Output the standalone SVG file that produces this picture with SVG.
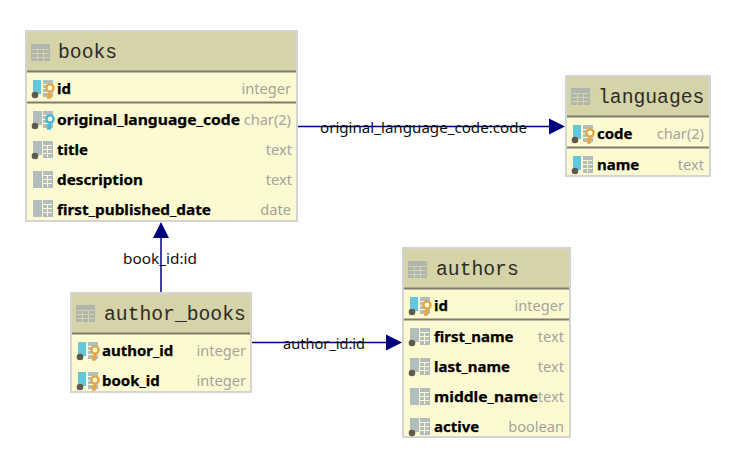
<svg xmlns="http://www.w3.org/2000/svg" width="741" height="475" viewBox="0 0 741 475">
<style>
.box{fill:#fdfad2;stroke:#d4d4d4;stroke-width:2}
.head{fill:#d6d3a8}
.sep{stroke:#7d7b6d;stroke-width:2}
.title{font-family:"Liberation Mono",monospace;font-size:19.7px;fill:#2c2c26}
.col{font-family:"Noto Sans",sans-serif;font-weight:700;font-size:15px;fill:#000;stroke:#000;stroke-width:.25}
.typ{font-family:"Noto Sans",sans-serif;font-size:14.6px;fill:#a4a49c;text-anchor:end}
.lab{font-family:"Noto Sans",sans-serif;font-size:15px;fill:#111}
.edge{stroke:#00007f;stroke-width:1.5;fill:none}
.arrow{fill:#00007f}
</style>
<defs>
<g id="tbl"><rect x="0" y="0" width="19" height="17" fill="#aeb6ae"/><path d="M1 5.500H18M1 9.500H18M1 13.500H18M6.500 5V17M12.500 5V17" stroke="#d6d3a8" stroke-width="1" fill="none"/></g>
<g id="gridbar"><path d="M10 0H20V17H10z" fill="#b2bdbe"/><path d="M10 4.500H19M10 8.500H19M10 12.500H19M14.500 4V16" stroke="#fdfad2" stroke-width="1" fill="none"/></g>
<g id="c"><rect x="0" y="0" width="9" height="17" fill="#b2bdbe"/><use href="#gridbar"/></g>
<g id="cn"><rect x="0" y="0" width="9" height="14" fill="#b2bdbe"/><use href="#gridbar"/><circle cx="2" cy="15" r="3.300" fill="#5e5a4e"/></g>
<g id="cb"><rect x="0" y="0" width="8" height="14" fill="#62c6dd"/><use href="#gridbar"/><circle cx="2" cy="15" r="3.300" fill="#5e5a4e"/></g>
<g id="key"><circle cx="17" cy="8" r="3.600" fill="#fdfad2" stroke-width="2.400"/><path d="M17 11V18.500M17 14.500H13.500M17 17.500H14" stroke-width="2.400" fill="none"/></g>
<use id="gk" href="#key" stroke="#e0a848"/>
<use id="bk" href="#key" stroke="#45b6dc"/>
<use id="table" href="#tbl"/>
</defs>

<g id="connectors">
<path class="edge" d="M297 126.500H552"/><path class="arrow" d="M565 126.500L549 118.500V134.500z"/>
<path class="edge" d="M161 293V236"/><path class="arrow" d="M161 222L153 238H169z"/>
<path class="edge" d="M251 342.500H389"/><path class="arrow" d="M402 342.500L386 334.500V350.500z"/>
<text class="lab" x="320" y="132.500" textLength="207" lengthAdjust="spacingAndGlyphs">original_language_code:code</text>
<text class="lab" x="123" y="263.500" textLength="74" lengthAdjust="spacingAndGlyphs">book_id:id</text>
<text class="lab" x="283" y="348.500" textLength="82" lengthAdjust="spacingAndGlyphs">author_id:id</text>
</g>

<g id="books">
<rect class="box" x="26" y="31" width="271" height="190"/>
<rect class="head" x="27" y="32" width="269" height="39"/>
<line class="sep" x1="27" x2="296" y1="71.500" y2="71.500"/><line class="sep" x1="27" x2="296" y1="102.500" y2="102.500"/>
<use href="#table" x="31" y="44"/><text class="title" x="58" y="57.500">books</text>
<use href="#cb" x="33" y="80"/><use href="#gk" x="33" y="80"/><text class="col" x="57" y="94">id</text><text class="typ" x="291" y="94">integer</text>
<use href="#cn" x="33" y="111"/><use href="#bk" x="33" y="111"/><text class="col" x="57" y="125" textLength="183" lengthAdjust="spacingAndGlyphs">original_language_code</text><text class="typ" x="291" y="125">char(2)</text>
<use href="#cn" x="33" y="141"/><text class="col" x="57" y="155">title</text><text class="typ" x="292" y="155">text</text>
<use href="#c" x="33" y="171"/><text class="col" x="57" y="185" textLength="86" lengthAdjust="spacingAndGlyphs">description</text><text class="typ" x="292" y="185">text</text>
<use href="#c" x="33" y="200"/><text class="col" x="57" y="215" textLength="154" lengthAdjust="spacingAndGlyphs">first_published_date</text><text class="typ" x="291" y="215">date</text>
</g>

<g id="languages">
<rect class="box" x="566" y="76" width="144" height="100"/>
<rect class="head" x="567" y="77" width="142" height="39"/>
<line class="sep" x1="567" x2="709" y1="116.500" y2="116.500"/><line class="sep" x1="567" x2="709" y1="147.500" y2="147.500"/>
<use href="#table" x="571" y="88"/><text class="title" x="598" y="103">languages</text>
<use href="#cb" x="573" y="125"/><use href="#gk" x="573" y="125"/><text class="col" x="597" y="139">code</text><text class="typ" x="704" y="139">char(2)</text>
<use href="#cb" x="573" y="156"/><text class="col" x="597" y="170">name</text><text class="typ" x="704" y="170">text</text>
</g>

<g id="author_books">
<rect class="box" x="71" y="293" width="180" height="99"/>
<rect class="head" x="72" y="294" width="178" height="39"/>
<line class="sep" x1="72" x2="250" y1="333.500" y2="333.500"/>
<use href="#table" x="76" y="305"/><text class="title" x="104" y="320">author_books</text>
<use href="#cb" x="78" y="342"/><use href="#gk" x="78" y="342"/><text class="col" x="102" y="356">author_id</text><text class="typ" x="246" y="356">integer</text>
<use href="#cb" x="78" y="372"/><use href="#gk" x="78" y="372"/><text class="col" x="102" y="386">book_id</text><text class="typ" x="246" y="386">integer</text>
</g>

<g id="authors">
<rect class="box" x="403" y="248" width="167" height="189"/>
<rect class="head" x="404" y="249" width="165" height="39"/>
<line class="sep" x1="404" x2="569" y1="288.500" y2="288.500"/><line class="sep" x1="404" x2="569" y1="319.500" y2="319.500"/>
<use href="#table" x="408" y="261"/><text class="title" x="436" y="275">authors</text>
<use href="#cb" x="410" y="297"/><use href="#gk" x="410" y="297"/><text class="col" x="434" y="311">id</text><text class="typ" x="564" y="311">integer</text>
<use href="#cn" x="410" y="328"/><text class="col" x="434" y="342">first_name</text><text class="typ" x="564" y="342">text</text>
<use href="#cn" x="410" y="358"/><text class="col" x="434" y="372">last_name</text><text class="typ" x="564" y="372">text</text>
<use href="#c" x="410" y="388"/><text class="col" x="434" y="402" textLength="104" lengthAdjust="spacingAndGlyphs">middle_name</text><text class="typ" x="564" y="402">text</text>
<use href="#cn" x="410" y="418"/><text class="col" x="434" y="432">active</text><text class="typ" x="564" y="432">boolean</text>
</g>
</svg>
